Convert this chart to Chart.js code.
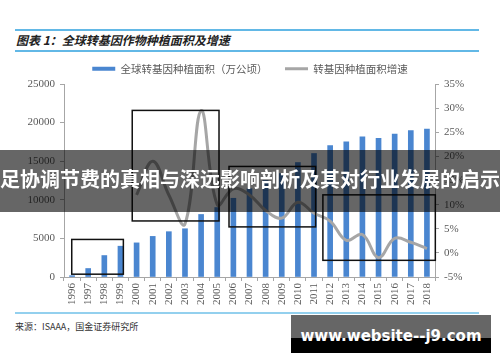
<!DOCTYPE html>
<html>
<head>
<meta charset="utf-8">
<script src="https://cdn.jsdelivr.net/npm/chart.js@4.4.1/dist/chart.umd.min.js"></script>
<style>
  body { margin: 0; width: 500px; height: 362px; background: #fff; position: relative; overflow: hidden; font-family: "Noto Sans CJK SC", sans-serif; }
  .rule { position: absolute; left: 15px; width: 464px; }
  #title { position: absolute; left: 16px; top: 31px; font-size: 12px; font-weight: bold; font-style: italic; color: #222; white-space: nowrap; }
  #wrap { position: absolute; left: 0; top: 46px; width: 500px; height: 264px; }
  #source { position: absolute; left: 15px; top: 320px; font-size: 9px; color: #333; white-space: nowrap; }
  #band { position: absolute; left: 0; top: 150px; width: 500px; height: 62px; background: rgba(0,0,0,0.6); }
  #band span { position: absolute; left: 0; width: 500px; top: 16px; text-align: center; color: #fff; font-size: 20px; font-weight: bold; line-height: 26px; white-space: nowrap; }
  #mark { position: absolute; left: 291px; top: 315px; width: 200px; height: 38px; background: linear-gradient(#666 0, #666 61%, #000 61%, #000 100%); }
  #mark span { position: absolute; left: 0; width: 200px; top: 12px; text-align: center; color: #fff; font-family: "DejaVu Sans", sans-serif; font-size: 15px; font-weight: bold; line-height: 18px; white-space: nowrap; }
</style>
</head>
<body>
<div class="rule" style="top:29px;height:1.5px;background:#62b8e6"></div>
<div id="title">图表 1：全球转基因作物种植面积及增速</div>
<div class="rule" style="top:50px;height:1.5px;background:#62b8e6"></div>
<div id="wrap"><canvas id="chart"></canvas></div>
<div class="rule" style="top:312px;height:2px;background:#93d0ee"></div>
<div id="source">来源：ISAAA，国金证券研究所</div>
<div id="band"><span>足协调节费的真相与深远影响剖析及其对行业发展的启示</span></div>
<div id="mark"><span>www.website--j9.com</span></div>
<script>
const years = ['1996', '1997', '1998', '1999', '2000', '2001', '2002', '2003', '2004', '2005', '2006', '2007',
  '2008', '2009', '2010', '2011', '2012', '2013', '2014', '2015', '2016', '2017', '2018'];
// 万公顷
const area = [170, 1100, 2780, 3990, 4420, 5260, 5870, 6250, 8100, 9000, 10200, 11430,
  12500, 13400, 14830, 16000, 17030, 17520, 18150, 17970, 18510, 18980, 19170];
// %
const growth = [null, null, null, null, 12, 19, 12, 6, 29.5, 10, 13.3, 12,
  8.8, 7.2, 10.5, 8.2, 6.6, 2.6, 3.8, -1, 3, 2.2, 0.9];
const leftTicks = [0, 5000, 10000, 15000, 20000, 25000];
const rightTicks = [-5, 0, 5, 10, 15, 20, 25, 30, 35];

// black highlight frames, in category index / left-axis units
const frames = [
  { x0: -0.02, x1: 3.18, y0: 365, y1: 4865 },
  { x0: 3.73, x1: 9.11, y0: 7260, y1: 21580 },
  { x0: 9.73, x1: 15.1, y0: 6490, y1: 14320 },
  { x0: 15.55, x1: 22.52, y0: 2160, y1: 10640 }
];

const axisColor = '#a6a6a6';
const tickColor = '#595959';
const tickFont = { family: "'Liberation Serif', 'Times New Roman', serif", size: 11 };

const framePlugin = {
  id: 'frames',
  afterDatasetsDraw(chart) {
    const { ctx, scales: { x, y } } = chart;
    ctx.save();
    ctx.strokeStyle = '#111';
    ctx.lineWidth = 1.5;
    frames.forEach(f => {
      const l = x.getPixelForValue(f.x0), r = x.getPixelForValue(f.x1);
      const t = y.getPixelForValue(f.y1), b = y.getPixelForValue(f.y0);
      ctx.strokeRect(l, t, r - l, b - t);
    });
    ctx.restore();
  }
};

new Chart(document.getElementById('chart'), {
  type: 'bar',
  data: {
    labels: years,
    datasets: [
      {
        type: 'bar',
        label: '全球转基因种植面积（万公顷）',
        data: area,
        backgroundColor: '#4a86d0',
        barThickness: 5,
        yAxisID: 'y',
        order: 1
      },
      {
        type: 'line',
        label: '转基因种植面积增速',
        data: growth,
        borderColor: '#a6a6a6',
        backgroundColor: '#a6a6a6',
        borderWidth: 3,
        pointRadius: 0,
        tension: 0.4,
        yAxisID: 'y1',
        order: 0
      }
    ]
  },
  options: {
    responsive: true,
    maintainAspectRatio: false,
    animation: false,
    layout: { padding: 0 },
    plugins: {
      tooltip: { enabled: false },
      legend: {
        position: 'top',
        labels: {
          usePointStyle: true,
          pointStyleWidth: 23,
          boxHeight: 4,
          padding: 17.5,
          color: tickColor,
          font: { family: 'Noto Sans CJK SC', size: 10.5 },
          generateLabels(chart) {
            const items = Chart.defaults.plugins.legend.labels.generateLabels(chart);
            items.forEach(it => {
              it.pointStyle = chart.data.datasets[it.datasetIndex].type === 'line' ? 'line' : 'rect';
            });
            return items.sort((a, b) => a.datasetIndex - b.datasetIndex);
          }
        }
      }
    },
    scales: {
      x: {
        grid: { display: true, drawOnChartArea: false, tickLength: 4, color: axisColor, offset: true },
        border: { color: axisColor },
        ticks: { autoSkip: false, minRotation: 90, maxRotation: 90, padding: 2, color: tickColor, font: tickFont },
        afterFit: s => { s.height = 33; }
      },
      y: {
        position: 'left',
        min: 0,
        max: 25000,
        grid: { drawOnChartArea: false, tickLength: 4, color: axisColor },
        border: { color: axisColor },
        ticks: { padding: 5, color: tickColor, font: tickFont, callback: v => String(v) },
        afterBuildTicks: s => { s.ticks = leftTicks.map(v => ({ value: v })); },
        afterFit: s => { s.width = 64; }
      },
      y1: {
        position: 'right',
        min: -5,
        max: 35,
        grid: { drawOnChartArea: false, tickLength: 4, color: axisColor },
        border: { color: axisColor },
        ticks: { padding: 5, color: tickColor, font: tickFont, callback: v => v + '%' },
        afterBuildTicks: s => { s.ticks = rightTicks.map(v => ({ value: v })); },
        afterFit: s => { s.width = 65; }
      }
    }
  },
  plugins: [framePlugin]
});
</script>
</body>
</html>
